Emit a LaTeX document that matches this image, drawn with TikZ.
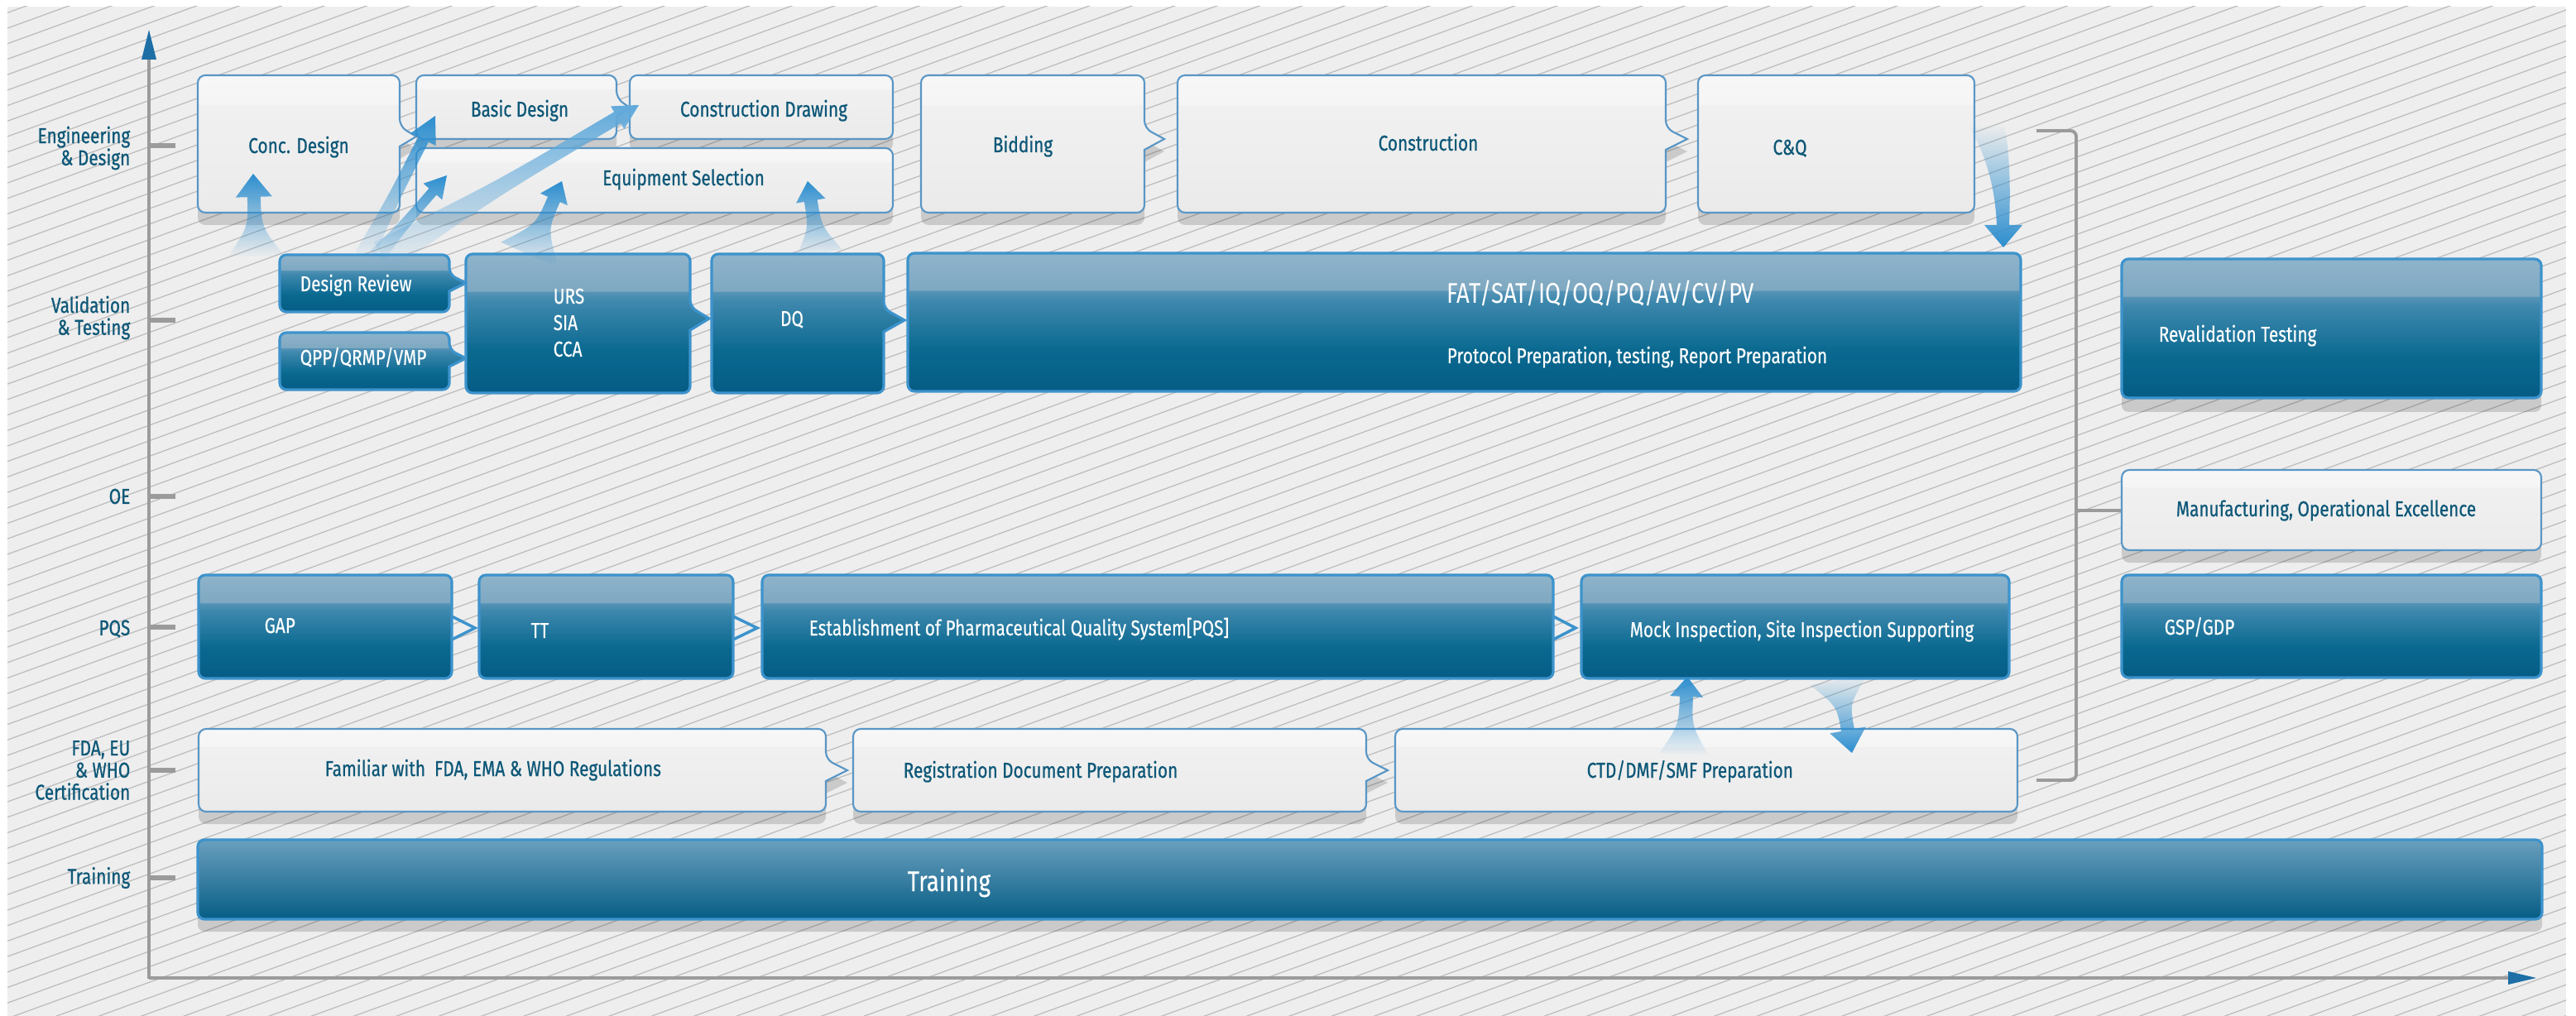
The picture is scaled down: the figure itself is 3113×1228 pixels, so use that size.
\documentclass[tikz,border=0pt]{standalone}
\usepackage{fontspec}
\setmainfont{Fira Sans}[FakeStretch=0.8]
\newfontfamily\medfont{Fira Sans}[FakeStretch=0.8,FakeBold=0.7]
\newfontfamily\wfont{Fira Sans}[FakeStretch=0.8,FakeBold=0.3]
\usetikzlibrary{calc,fadings}

\definecolor{bggray}{HTML}{EEEEEE}
\definecolor{hatchc}{HTML}{BCBCBC}
\definecolor{axgray}{HTML}{9B9B9B}
\definecolor{axblue}{HTML}{1D6FA6}
\definecolor{labteal}{HTML}{0E5878}
\definecolor{dkborder}{HTML}{3D93CC}
\definecolor{ltborder}{HTML}{5896C6}
\definecolor{glowc}{HTML}{2C8ECF}
\definecolor{dk0}{HTML}{055C85}
\definecolor{dk1}{HTML}{0A6990}
\definecolor{dk2}{HTML}{3F88AE}
\definecolor{dk3}{HTML}{5593B6}
\definecolor{dk4}{HTML}{7EA8C1}
\definecolor{dk5}{HTML}{8FB4CB}
\definecolor{lt0}{HTML}{EAEAEA}
\definecolor{lt1}{HTML}{EEEEEE}
\definecolor{lt2}{HTML}{F0F0F0}
\definecolor{lt3}{HTML}{F5F5F5}
\definecolor{lt4}{HTML}{F7F7F7}
\definecolor{tr0}{HTML}{065D85}
\definecolor{tr1}{HTML}{6A9FBE}

\pgfdeclareverticalshading{darkbox}{100bp}{color(0bp)=(dk0); color(25bp)=(dk0); color(40bp)=(dk1); color(58bp)=(dk2); color(61.3bp)=(dk3); color(61.7bp)=(dk4); color(75bp)=(dk5); color(100bp)=(dk5)}
\pgfdeclareverticalshading{lightbox}{100bp}{color(0bp)=(lt0); color(25bp)=(lt0); color(45bp)=(lt1); color(64bp)=(lt2); color(64.5bp)=(lt3); color(75bp)=(lt4); color(100bp)=(lt4)}
\pgfdeclareverticalshading{trainbox}{100bp}{color(0bp)=(tr0); color(25bp)=(tr0); color(75bp)=(tr1); color(100bp)=(tr1)}

\tikzfading[name=fadeup, top color=transparent!0, middle color=transparent!20, bottom color=transparent!100]
\tikzfading[name=fadedown, top color=transparent!100, middle color=transparent!20, bottom color=transparent!0]

\newcommand\fA{\fontsize{7.4pt}{7.6pt}\selectfont}
\newcommand\fU{\fontsize{7.4pt}{9.1pt}\selectfont}
\newcommand\fB{\fontsize{9.8pt}{10pt}\selectfont}

% light box: L T R B
\newcommand\LBox[4]{%
  \fill[shadowc, rounded corners=2.6pt] (#1,#2+15) rectangle (#3,#4+15);
  \shade[shading=lightbox, draw=ltborder, line width=0.6pt, rounded corners=2.6pt] (#1,#2) rectangle (#3,#4);}
% light box with pointer: L T R B c len half
\newcommand\LBoxP[7]{%
  \fill[shadowc, rounded corners=2.6pt] (#1,#2+15) -- (#3,#2+15) -- (#3,#5-#7+15) [sharp corners] -- (#3+#6,#5+15) -- (#3,#5+#7+15) [rounded corners=2.6pt] -- (#3,#4+15) -- (#1,#4+15) -- cycle;
  \shade[shading=lightbox, draw=ltborder, line width=0.6pt, rounded corners=2.6pt] (#1,#2) -- (#3,#2) -- (#3,#5-#7) [sharp corners] -- (#3+#6,#5) -- (#3,#5+#7) [rounded corners=2.6pt] -- (#3,#4) -- (#1,#4) -- cycle;}
% dark box
\newcommand\DBox[4]{%
  \shade[shading=darkbox, draw=dkborder, line width=0.9pt, rounded corners=2.3pt] (#1,#2) rectangle (#3,#4);}
\newcommand\DBoxP[7]{%
  \shade[shading=darkbox, draw=dkborder, line width=0.9pt, rounded corners=2.3pt] (#1,#2) -- (#3,#2) -- (#3,#5-#7) [sharp corners] -- (#3+#6,#5) -- (#3,#5+#7) [rounded corners=2.3pt] -- (#3,#4) -- (#1,#4) -- cycle;}
% glow arrow: base, tip, basehalf, stemhalf, headhalf, headlen, options
\newcommand\glowarrow[7]{%
  \coordinate (gH) at ($(#2)!#6!(#1)$);
  \coordinate (gM) at ($(#1)!0.5!(gH)$);
  \fill[#7] ($(#1)!#3!90:(#2)$) .. controls ($(gM)!#4!90:(#2)$) .. ($(gH)!#4!90:(#2)$) -- ($(gH)!#5!90:(#2)$) -- (#2) -- ($(gH)!#5!-90:(#2)$) -- ($(gH)!#4!-90:(#2)$) .. controls ($(gM)!#4!-90:(#2)$) .. ($(#1)!#3!-90:(#2)$) -- cycle;}

\tikzset{
  shadowc/.style={fill=black, fill opacity=0.15},
  axlab/.style={text=labteal, font=\medfont\fA, align=right, anchor=east, inner sep=0pt},
  lab/.style={text=labteal, font=\medfont\fA, inner sep=0pt},
  wlab/.style={text=white, font=\wfont\fA, inner sep=0pt},
  tick/.style={axgray, line width=1.7pt},
  axline/.style={axgray, line width=0.9pt},
  glowup/.style={fill=glowc, path fading=fadeup},
  glowdown/.style={fill=glowc, path fading=fadedown},
}

\begin{document}
\begin{tikzpicture}[x=0.01cm, y=-0.01cm]
\fill[white] (0,0) rectangle (3113,1228);
\useasboundingbox (0,0) rectangle (3113,1228);
% background with hatching
\fill[bggray] (9,8) rectangle (3101,1228);
\begin{scope}
  \clip (9,8) rectangle (3101,1228);
  \foreach \c in {0,18.7,...,2400} \draw[hatchc, line width=0.35pt] (0,\c) -- (3113,\c-1133);
\end{scope}

% axes
\draw[axline] (180,1183) -- (180,70);
\fill[axblue] (180,36) -- (171,72) -- (189,72) -- cycle;
\draw[axline] (180,1182) -- (3031,1182);
\fill[axblue] (3065,1182) -- (3031,1174) -- (3031,1190) -- cycle;
\foreach \y in {176,387,600,758,931,1061} \draw[tick] (180,\y) -- (212,\y);

% axis labels
\node[axlab] (lEng) at (158,179) {Engineering\\\& Design};
\node[axlab] (lVal) at (158,384) {Validation\\\& Testing};
\node[axlab] (lOE) at (158,600) {OE};
\node[axlab] (lPQS) at (158,760) {PQS};
\node[axlab] (lFDA) at (158,931) {FDA, EU\\\& WHO\\Certification};
\node[axlab] (lTr) at (158,1061) {Training};

% bracket
\draw[axgray, line width=1.1pt, rounded corners=2pt] (2461,158) -- (2509,158) -- (2509,943) -- (2461,943);
\draw[axgray, line width=1.1pt] (2509,617) -- (2564,617);

% engineering row
\LBoxP{239}{91}{483}{257}{165}{20}{12}
\LBoxP{503}{91}{745}{168}{130}{16}{11}
\LBox{761}{91}{1079}{168}
\LBox{503}{179}{1079}{257}
\LBoxP{1113}{91}{1383}{257}{168}{24}{13}
\LBoxP{1423}{91}{2013}{257}{168}{26}{13}
\LBox{2052}{91}{2386}{257}

% validation row
\DBoxP{338}{308}{543}{377}{342}{20}{10}
\DBoxP{338}{402}{543}{471}{433}{20}{10}
\DBoxP{563}{307}{834}{475}{385}{23}{14}
\DBoxP{860}{307}{1068}{475}{387}{25}{14}
\DBox{1097}{306}{2442}{473}
\fill[shadowc, rounded corners=2.3pt] (2564,330) rectangle (3071,498);
\DBox{2564}{313}{3071}{481}

% OE
\LBox{2564}{568}{3071}{665}

% PQS row
\DBox{240}{695}{546}{820}
\DBox{579}{695}{886}{820}
\DBox{921}{695}{1877}{820}
\DBox{1911}{695}{2428}{820}
\DBox{2564}{695}{3071}{819}
\foreach \r/\t in {546/574, 886/915, 1877/1904}
  \draw[dkborder, line width=1pt] (\r,745) -- (\t,759) -- (\r,773);

% FDA row
\LBoxP{240}{881}{998}{981}{931}{26}{13}
\LBoxP{1031}{881}{1651}{981}{931}{26}{13}
\LBox{1686}{881}{2438}{981}

% training
\fill[shadowc, rounded corners=2.3pt] (239,1030) rectangle (3072,1126);
\shade[shading=trainbox, draw=dkborder, line width=0.9pt, rounded corners=2.3pt] (239,1015) rectangle (3072,1111);

% texts
\node[lab, anchor=base] (conc) at (361,185) {Conc. Design};
\node[lab, anchor=base] (basic) at (628,141) {Basic Design};
\node[lab, anchor=base] (cdraw) at (923,141) {Construction Drawing};
\node[lab, anchor=base] (equip) at (826,224) {Equipment Selection};
\node[lab, anchor=base] (bid) at (1236,184) {Bidding};
\node[lab, anchor=base] (constr) at (1726,182) {Construction};
\node[lab, anchor=base] (cq) at (2163,187) {C\&Q};
\node[wlab, anchor=base west] (dr) at (362,352) {Design Review};
\node[wlab, anchor=base west] (qpp) at (362,441) {QPP/QRMP/VMP};
\node[wlab, anchor=west, align=left, font=\wfont\fU] (urs) at (668,390) {URS\\SIA\\CCA};
\node[wlab, anchor=base] (dq) at (957,394) {DQ};
\node[wlab, anchor=base west, font=\fB] (fat) at (1748,367) {FAT/SAT/IQ/OQ/PQ/AV/CV/PV};
\node[wlab, anchor=base west] (fatsub) at (1748,439) {Protocol Preparation, testing, Report Preparation};
\node[wlab, anchor=base west] (reval) at (2608,413) {Revalidation Testing};
\node[lab, anchor=base] (manuf) at (2811,624) {Manufacturing, Operational Excellence};
\node[wlab, anchor=base west] (gap) at (319,765) {GAP};
\node[wlab, anchor=base west] (tt) at (641,771) {TT};
\node[wlab, anchor=base west] (est) at (977,768) {Establishment of Pharmaceutical Quality System[PQS]};
\node[wlab, anchor=base west] (mock) at (1969,770) {Mock Inspection, Site Inspection Supporting};
\node[wlab, anchor=base west] (gsp) at (2615,767) {GSP/GDP};
\node[lab, anchor=base west] (fam) at (392,938) {Familiar with\ \ FDA, EMA \& WHO Regulations};
\node[lab, anchor=base west] (reg) at (1091,940) {Registration Document Preparation};
\node[lab, anchor=base west] (ctd) at (1917,940) {CTD/DMF/SMF Preparation};
\node[wlab, anchor=base west, font=\wfont\fB] (train) at (1096,1077) {Training};

% glow arrows
\coordinate (a1b) at (309,310); \coordinate (a1t) at (306,210);
\coordinate (a2b) at (440,310); \coordinate (a2t) at (526,140);
\coordinate (a3b) at (455,310); \coordinate (a3t) at (540,212);
\coordinate (a4b) at (462,310); \coordinate (a4t) at (772,127);
\coordinate (a5b) at (640,308); \coordinate (a5t) at (679,219);
\coordinate (a6b) at (990,306); \coordinate (a6t) at (976,219);
\coordinate (a7b) at (2035,912); \coordinate (a7t) at (2039,818);
\coordinate (a8b) at (2222,822); \coordinate (a8t) at (2238,910);
\glowarrow{a1b}{a1t}{0.34cm}{0.08cm}{0.22cm}{0.28cm}{glowup}
\glowarrow{a4b}{a4t}{0.2cm}{0.08cm}{0.16cm}{0.3cm}{glowup, fill=glowc!75!white}
\glowarrow{a2b}{a2t}{0.12cm}{0.07cm}{0.17cm}{0.32cm}{glowup}
\glowarrow{a3b}{a3t}{0.1cm}{0.06cm}{0.15cm}{0.26cm}{glowup}
\glowarrow{a5b}{a5t}{0.38cm}{0.08cm}{0.18cm}{0.24cm}{glowup}
\glowarrow{a6b}{a6t}{0.28cm}{0.08cm}{0.18cm}{0.24cm}{glowup}
\glowarrow{a7b}{a7t}{0.3cm}{0.08cm}{0.2cm}{0.24cm}{glowup}
\glowarrow{a8b}{a8t}{0.35cm}{0.08cm}{0.22cm}{0.28cm}{glowdown}
% C&Q -> FAT curved arrow
\coordinate (a9t) at (2421,299);
\fill[glowdown] (2378,150) .. controls (2402,190) and (2411,230) .. (2413,272) -- (2398,272) -- (a9t) -- (2444,272) -- (2428,272) .. controls (2430,220) and (2428,180) .. (2422,150) -- cycle;
\end{tikzpicture}
\end{document}
